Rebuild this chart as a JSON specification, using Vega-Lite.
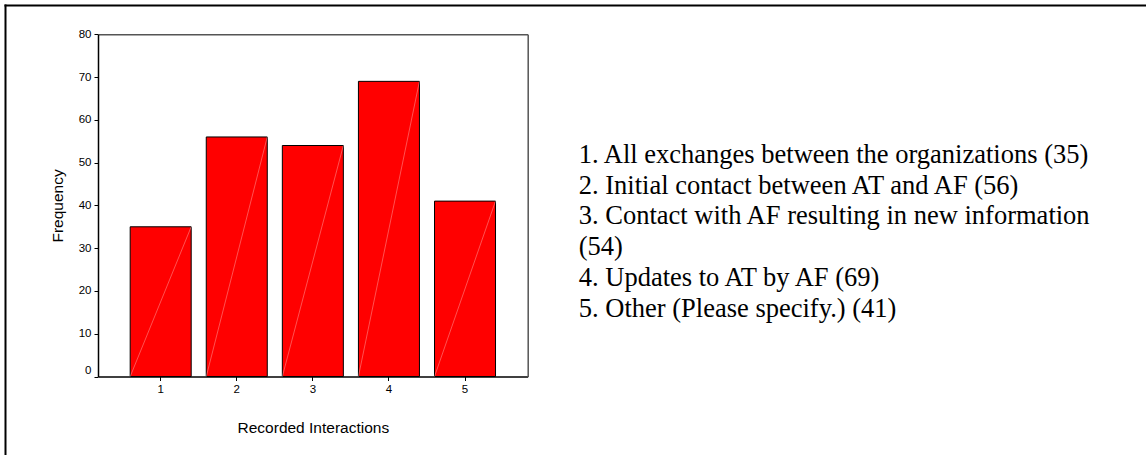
{
  "$schema": "https://vega.github.io/schema/vega-lite/v6.json",
  "width": 1141,
  "height": 450,
  "autosize": {"type": "none"},
  "padding": {"left": 5, "top": 5, "right": 0, "bottom": 0},
  "background": "white",
  "config": {
    "view": {"stroke": null},
    "axis": {
      "labelFont": "Liberation Sans",
      "titleFont": "Liberation Sans",
      "labelColor": "black",
      "titleColor": "black",
      "titleFontWeight": "normal",
      "grid": false,
      "domainColor": "black",
      "tickColor": "black"
    }
  },
  "datasets": {
    "bars": [
      {"interaction": "1", "frequency": 35},
      {"interaction": "2", "frequency": 56},
      {"interaction": "3", "frequency": 54},
      {"interaction": "4", "frequency": 69},
      {"interaction": "5", "frequency": 41}
    ],
    "legend": [
      {"row": 1, "label": "1. All exchanges between the organizations (35)"},
      {"row": 2, "label": "2. Initial contact between AT and AF (56)"},
      {"row": 3, "label": "3. Contact with AF resulting in new information"},
      {"row": 4, "label": "(54)"},
      {"row": 5, "label": "4. Updates to AT by AF (69)"},
      {"row": 6, "label": "5. Other (Please specify.) (41)"}
    ]
  },
  "layer": [
    {
      "data": {"values": [{"frame": 0}]},
      "mark": {"type": "point", "opacity": 0},
      "encoding": {
        "x": {
          "datum": 0,
          "type": "quantitative",
          "scale": {"domain": [0, 1], "range": [-1, 1141], "nice": false, "zero": false},
          "axis": {"orient": "top", "offset": 0, "labels": false, "ticks": false, "title": null, "domainColor": "black", "domainWidth": 2}
        },
        "y": {
          "datum": 0,
          "type": "quantitative",
          "scale": {"domain": [0, 1], "range": [450, -1], "nice": false, "zero": false},
          "axis": {"orient": "left", "offset": 0, "labels": false, "ticks": false, "title": null, "domainColor": "black", "domainWidth": 2}
        }
      }
    },
    {
      "data": {"name": "bars"},
      "mark": {"type": "bar", "fill": "#FF0000", "stroke": "black", "strokeWidth": 1},
      "encoding": {
        "x": {
          "field": "interaction",
          "type": "ordinal",
          "scale": {"type": "band", "domain": ["1", "2", "3", "4", "5"], "range": [93, 522.7], "paddingInner": 0.198, "paddingOuter": 0.423},
          "axis": {
            "orient": "bottom",
            "offset": -78.5,
            "title": "Recorded Interactions",
            "titleFontSize": 15.5,
            "titlePadding": 25,
            "labelFontSize": 11.5,
            "labelAngle": 0,
            "labelPadding": 3,
            "tickSize": 4,
            "tickWidth": 1,
            "domainWidth": 1.5
          }
        },
        "y": {
          "field": "frequency",
          "type": "quantitative",
          "scale": {"domain": [0, 80], "range": [371.5, 29.3], "nice": false},
          "axis": {
            "orient": "left",
            "offset": -93,
            "values": [0, 10, 20, 30, 40, 50, 60, 70, 80],
            "title": "Frequency",
            "titleFontSize": 15.5,
            "titlePadding": 13,
            "labelFontSize": 11.5,
            "labelPadding": 3,
            "labelOffset": {"condition": {"test": "datum.value === 0", "value": -6}, "value": 0},
            "tickSize": 4,
            "tickWidth": 1,
            "domainWidth": 1.5
          }
        }
      }
    },
    {
      "data": {"name": "bars"},
      "mark": {"type": "rule", "color": "white", "strokeWidth": 0.8, "opacity": 0.4, "xOffset": 30.5, "x2Offset": -30.5},
      "encoding": {
        "x": {
          "field": "interaction",
          "type": "ordinal",
          "scale": {"type": "band", "domain": ["1", "2", "3", "4", "5"], "range": [93, 522.7], "paddingInner": 0.198, "paddingOuter": 0.423},
          "axis": {"orient": "top", "offset": -29.3, "labels": false, "ticks": false, "title": null, "domainColor": "#555555", "domainWidth": 1.5}
        },
        "x2": {"field": "interaction"},
        "y": {
          "field": "frequency",
          "type": "quantitative",
          "scale": {"domain": [0, 80], "range": [371.5, 29.3], "nice": false},
          "axis": {"orient": "right", "offset": -618.3, "labels": false, "ticks": false, "title": null, "domainColor": "#555555", "domainWidth": 1.5}
        },
        "y2": {"datum": 0}
      }
    },
    {
      "data": {"name": "legend"},
      "mark": {"type": "text", "font": "Liberation Serif", "fontSize": 26.5, "align": "left", "baseline": "alphabetic", "color": "black"},
      "encoding": {
        "x": {"datum": 0, "type": "quantitative", "scale": {"domain": [0, 1], "range": [573.8, 1141]}, "axis": null},
        "y": {"field": "row", "type": "ordinal", "scale": {"type": "point", "domain": [1, 2, 3, 4, 5, 6], "range": [158, 311.5], "padding": 0}, "axis": null},
        "text": {"field": "label"}
      }
    }
  ],
  "resolve": {
    "scale": {"x": "independent", "y": "independent"},
    "axis": {"x": "independent", "y": "independent"}
  }
}
